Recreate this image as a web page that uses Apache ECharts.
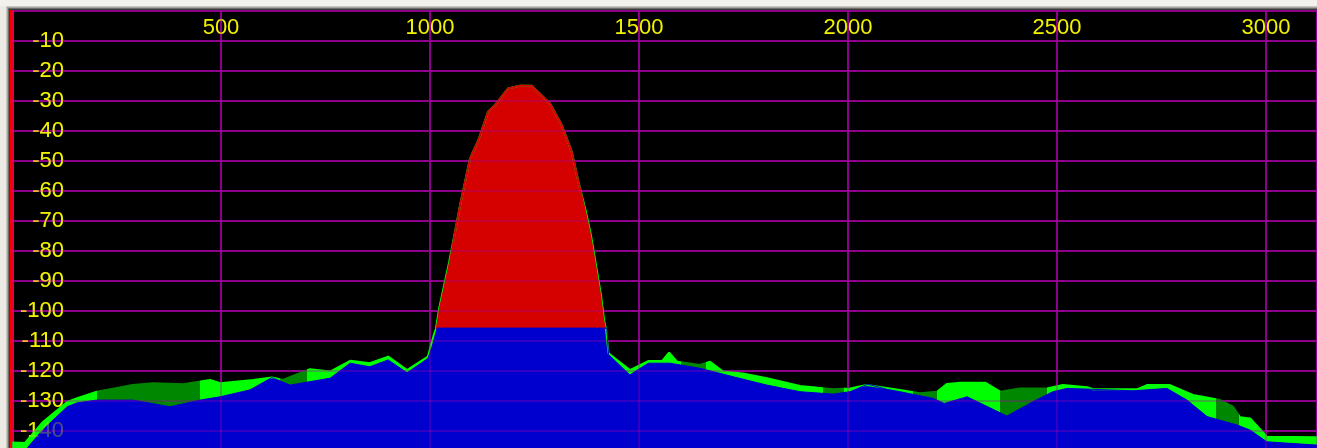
<!DOCTYPE html>
<html>
<head>
<meta charset="utf-8">
<script src="https://cdn.jsdelivr.net/npm/echarts@6/dist/echarts.min.js"></script>
<style>
  html, body { margin: 0; padding: 0; background: #ECEAE2; }
  #chart { width: 1317px; height: 448px; }
</style>
</head>
<body>
<div id="chart"></div>
<script>
// Axis ranges and tick steps
const freqMax = 3122;        // Hz at the right edge
const freqStep = 500;        // Hz between vertical grid lines
const levelMin = -150;       // dB
const levelMax = 0;          // dB
const levelStep = 10;        // dB between horizontal grid lines

// Peak-hold trace (green): frequency in Hz, level in dB
const holdFreq = [0, 31, 74, 132, 156, 203, 289, 337, 409, 474, 498, 577, 622, 648, 713, 761, 809, 856, 900, 945, 995, 1009,
  1014, 1022, 1034, 1046, 1060, 1072, 1084, 1096, 1116, 1139, 1156, 1187, 1215, 1243, 1287, 1315, 1339, 1355,
  1373, 1385, 1397, 1409, 1417, 1421, 1424, 1427, 1478, 1522, 1555, 1572, 1591, 1646, 1670, 1701, 1749, 1806,
  1885, 1964, 2005, 2045, 2124, 2172, 2213, 2237, 2268, 2328, 2364, 2411, 2476, 2514, 2572, 2586, 2691, 2715,
  2770, 2825, 2890, 2921, 2938, 2962, 3002, 3122];
const holdLevel = [-143.8, -144, -137, -130.3, -129.1, -126.9, -124.7, -124.1, -124.4, -123, -124.1, -123, -122.2, -123, -119.4, -120.2, -116.6, -117.4, -115.2, -119.7, -115.2, -108,
  -106, -99.1, -91.3, -83.6, -73.6, -64.7, -56.9, -49.1, -43, -33.6, -31.3, -25.8, -24.9, -24.9, -30.8, -38, -46.9, -56.9,
  -66.9, -74.7, -84.7, -94.7, -103.6, -106, -110, -114.1, -119.7, -116.7, -116.7, -113.9, -116.9, -118, -116.9, -120.2, -120.8, -122.4,
  -125, -126.1, -125.8, -124.7, -126.3, -127.4, -126.9, -124.3, -123.9, -123.9, -126.9, -125.8, -125.8, -124.7, -125.4, -126.1, -126.1, -124.7,
  -124.7, -128, -129.7, -131.9, -135.4, -135.8, -141.9, -142.1];

// Frequency bands (Hz) where the hold fill is drawn dark green
const darkBands = [[203, 450], [641, 706], [1600, 1660], [1940, 1990], [2156, 2213], [2364, 2476], [2880, 2935]];

// Carrier above the noise floor (red): Hz, dB
const carrierFreq = [1016, 1024, 1036, 1048, 1060, 1072, 1084, 1096, 1116, 1139, 1156, 1187, 1215, 1243, 1287, 1315, 1339, 1355, 1371, 1383, 1395, 1407, 1415, 1419];
const carrierLevel = [-106, -99.1, -91.3, -83.6, -73.6, -64.7, -56.9, -49.1, -43, -33.6, -31.3, -25.8, -24.9, -24.9, -30.8, -38, -46.9, -56.9, -66.9, -74.7, -84.7, -94.7, -103.6, -106];

// Averaged spectrum (blue): Hz, dB
const avgFreq = [0, 31, 74, 132, 156, 203, 289, 378, 450, 498, 569, 622, 665, 761, 809, 856, 900, 945, 995, 1005, 1017, 1423, 1427,
  1478, 1522, 1574, 1646, 1725, 1806, 1885, 1964, 2005, 2048, 2093, 2124, 2203, 2230, 2285, 2380, 2443, 2490, 2524, 2586, 2682,
  2763, 2811, 2859, 2931, 2962, 3002, 3122];
const avgLevel = [-148, -146.5, -139.5, -131.9, -130.6, -129.7, -129.7, -131.9, -129.7, -128.6, -126.3, -122.2, -124.7, -122.4, -117.4, -118.6, -116.3, -120.6, -115.8, -111.9, -105.7, -105.7, -114.5,
  -121.3, -117.4, -117.4, -119.1, -121.9, -124.7, -126.9, -127.7, -126.9, -124.4, -126.1, -126.9, -129.1, -130.8, -128.6, -135, -130.2, -126.9, -125.8, -126.1, -126.6,
  -125.8, -129.7, -135.2, -138, -139.7, -143.6, -144.7];

const LIGHT_GREEN = '#00FF00';
const DARK_GREEN = '#008700';
const RED = '#D50000';
const BLUE = '#0000CE';
const GRID_PURPLE = '#800080';
const GRID_OVERLAY = 'rgba(170,0,170,0.3)';
const LABEL_YELLOW = '#F2F200';

const zip = (xs, ys) => xs.map((x, i) => [x, ys[i]]);

const labelText = {
  color: LABEL_YELLOW,
  fontFamily: 'Liberation Sans',
  fontSize: 22
};

const freqLabel = v => (v > 0 && v % freqStep === 0) ? String(v) : '';
const levelLabel = v => (v < levelMax && v > levelMin) ? String(v) : '';

const chart = echarts.init(document.getElementById('chart'), null, { renderer: 'canvas' });

chart.setOption({
  animation: false,
  backgroundColor: '#ECEAE2',
  graphic: [
    { type: 'rect', z: -10, shape: { x: 10, y: 10, width: 1307, height: 438 }, style: { fill: '#000000' } },
    { type: 'rect', z: -10, shape: { x: 0, y: 0, width: 1317, height: 6 }, style: { fill: '#F2F1EC' } },
    { type: 'rect', z: -10, shape: { x: 6, y: 6, width: 1311, height: 1 }, style: { fill: '#C8C7C0' } },
    { type: 'rect', z: -10, shape: { x: 7, y: 7, width: 1310, height: 1 }, style: { fill: '#A4A39C' } },
    { type: 'rect', z: -10, shape: { x: 8, y: 8, width: 1309, height: 1 }, style: { fill: '#6E6D68' } },
    { type: 'rect', z: -10, shape: { x: 9, y: 9, width: 1308, height: 1 }, style: { fill: '#3A3A38' } },
    { type: 'rect', z: -10, shape: { x: 6, y: 6, width: 1, height: 442 }, style: { fill: '#C8C7C0' } },
    { type: 'rect', z: -10, shape: { x: 7, y: 7, width: 1, height: 441 }, style: { fill: '#A4A39C' } },
    { type: 'rect', z: -10, shape: { x: 8, y: 8, width: 1, height: 440 }, style: { fill: '#6E6D68' } },
    { type: 'rect', z: -10, shape: { x: 9, y: 9, width: 1, height: 439 }, style: { fill: '#3A3A38' } },
    { type: 'rect', z: 1, shape: { x: 10, y: 10, width: 4, height: 438 }, style: { fill: '#FF0000' } }
  ],
  grid: {
    left: 12, top: 11, width: 1305, height: 450,
    containLabel: false, outerBoundsMode: 'none',
    show: false
  },
  xAxis: [
    {
      type: 'value', min: 0, max: freqMax, interval: freqStep, position: 'top', z: 0,
      axisLine: { show: false }, axisTick: { show: false },
      axisLabel: Object.assign({ inside: true, margin: 17, verticalAlign: 'middle', formatter: freqLabel, showMinLabel: true, showMaxLabel: true }, labelText),
      splitLine: { show: true, lineStyle: { color: GRID_PURPLE, width: 2 } }
    },
    {
      type: 'value', min: 0, max: freqMax, interval: freqStep, position: 'bottom', z: 10,
      axisLine: { show: false }, axisTick: { show: false }, axisLabel: { show: false },
      splitLine: { show: true, lineStyle: { color: GRID_OVERLAY, width: 2 } }
    }
  ],
  yAxis: [
    {
      type: 'value', min: levelMin, max: levelMax, interval: levelStep, position: 'left', z: 0,
      axisLine: { show: false }, axisTick: { show: false },
      axisLabel: Object.assign({ inside: true, align: 'right', margin: 52, formatter: levelLabel }, labelText),
      splitLine: { show: true, lineStyle: { color: GRID_PURPLE, width: 2 } }
    },
    {
      type: 'value', min: levelMin, max: levelMax, interval: levelStep, position: 'left', z: 10,
      axisLine: { show: false }, axisTick: { show: false },
      axisLabel: Object.assign({}, labelText, { inside: true, align: 'right', margin: 52, formatter: levelLabel, color: 'rgba(242,242,0,0.3)' }),
      splitLine: { show: true, lineStyle: { color: GRID_OVERLAY, width: 2 } }
    }
  ],
  visualMap: {
    type: 'piecewise', show: false, dimension: 0, seriesIndex: 0,
    pieces: darkBands.map(([a, b]) => ({ gte: a, lte: b, color: DARK_GREEN })),
    outOfRange: { color: LIGHT_GREEN }
  },
  series: [
    {
      name: 'Peak hold', type: 'line', xAxisIndex: 0, yAxisIndex: 0, z: 2,
      data: zip(holdFreq, holdLevel),
      symbol: 'none', silent: true,
      lineStyle: { width: 2 },
      areaStyle: { origin: 'start', opacity: 1 }
    },
    {
      name: 'Carrier', type: 'line', xAxisIndex: 0, yAxisIndex: 0, z: 2,
      data: zip(carrierFreq, carrierLevel),
      symbol: 'none', silent: true,
      itemStyle: { color: RED },
      lineStyle: { width: 2, color: RED },
      areaStyle: { origin: 'start', color: RED, opacity: 1 }
    },
    {
      name: 'Average', type: 'line', xAxisIndex: 0, yAxisIndex: 0, z: 2,
      data: zip(avgFreq, avgLevel),
      symbol: 'none', silent: true,
      itemStyle: { color: BLUE },
      lineStyle: { width: 1, color: BLUE },
      areaStyle: { origin: 'start', color: BLUE, opacity: 1 }
    }
  ]
});
</script>
</body>
</html>
